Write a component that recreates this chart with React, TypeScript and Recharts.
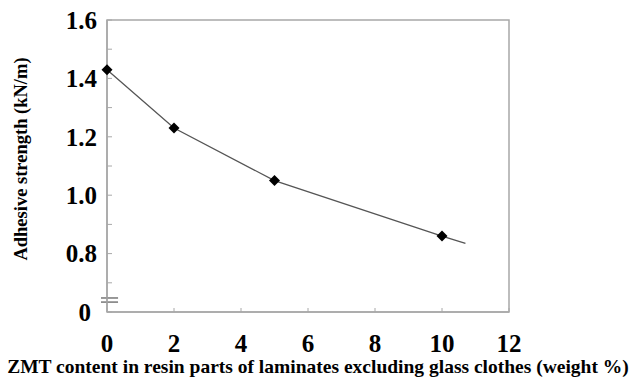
import {
  ComposedChart,
  Line,
  XAxis,
  YAxis,
  ReferenceArea,
  ReferenceLine,
  Label,
} from "recharts";

// ZMT content (weight %) and adhesive strength (kN/m)
const zmtContent = [0, 2, 5, 10, 10.7];
const adhesiveStrength = [1.43, 1.23, 1.05, 0.86, 0.835];
const hasMarker = [true, true, true, true, false];

const xTicks = [0, 2, 4, 6, 8, 10, 12];
const yTicks = [0.6, 0.7, 0.8, 0.9, 1.0, 1.1, 1.2, 1.3, 1.4, 1.5, 1.6];
const yLabels: Record<string, string> = {
  "0.6": "0",
  "0.8": "0.8",
  "1": "1.0",
  "1.2": "1.2",
  "1.4": "1.4",
  "1.6": "1.6",
};

// axis break marks near the bottom of the y axis
const breakYs = [0.648, 0.634];
const breakX = [-0.18, 0.33];

const data = zmtContent.map((x, i) => ({
  x,
  y: adhesiveStrength[i],
  marker: hasMarker[i],
}));

const FONT = "'Liberation Serif', 'Times New Roman', serif";
const AXIS_GRAY = "#a8a8a8";

const Diamond = (props: any) => {
  const { cx, cy, payload } = props;
  if (!payload?.marker || cx == null || cy == null) return <g />;
  const s = 5.5;
  return (
    <polygon
      points={`${cx},${cy - s} ${cx + s},${cy} ${cx},${cy + s} ${cx - s},${cy}`}
      fill="#000"
    />
  );
};

const YTick = (props: any) => {
  const { x, y, payload } = props;
  const key = String(Math.round(payload.value * 10) / 10);
  const text = yLabels[key];
  if (!text) return <g />;
  // the broken-axis zero sits a little further left
  const shift = key === "0.6" ? -6 : 0;
  return (
    <text
      x={x + shift}
      y={y}
      dy="0.35em"
      textAnchor="end"
      fill="#000"
      fontFamily={FONT}
      fontWeight="bold"
      fontSize={25}
    >
      {text}
    </text>
  );
};

const XTick = (props: any) => {
  const { x, payload } = props;
  return (
    <text
      x={x}
      y={352}
      textAnchor="middle"
      fill="#000"
      fontFamily={FONT}
      fontWeight="bold"
      fontSize={25}
    >
      {payload.value}
    </text>
  );
};

export default function App() {
  return (
    <div style={{ position: "absolute", left: 0, top: 0, width: 639, height: 381, background: "#fff" }}>
      <ComposedChart
        width={639}
        height={381}
        data={data}
        margin={{ top: 20, right: 130, left: 0, bottom: 0 }}
      >
        <ReferenceArea
          x1={0}
          x2={12}
          y1={0.6}
          y2={1.6}
          fill="none"
          stroke={AXIS_GRAY}
          strokeWidth={1.5}
          ifOverflow="visible"
        />
        <XAxis
          dataKey="x"
          type="number"
          domain={[0, 12]}
          ticks={xTicks}
          height={69}
          axisLine={{ stroke: AXIS_GRAY, strokeWidth: 1.5 }}
          tickLine={{ stroke: AXIS_GRAY }}
          tickSize={-4}
          tick={<XTick />}
        >
          <Label
            value="ZMT content in resin parts of laminates excluding glass clothes (weight %)"
            position="insideBottom"
            offset={8}
            dx={10}
            style={{ fill: "#000", fontFamily: FONT, fontWeight: "bold", fontSize: 19.5 }}
          />
        </XAxis>
        <YAxis
          type="number"
          domain={[0.6, 1.6]}
          ticks={yTicks}
          width={107}
          interval={0}
          axisLine={{ stroke: AXIS_GRAY, strokeWidth: 1.5 }}
          tickLine={{ stroke: AXIS_GRAY }}
          tickSize={-5}
          tickMargin={15}
          tick={<YTick />}
        >
          <Label
            value="Adhesive strength (kN/m)"
            angle={-90}
            position="center"
            dx={-33.5}
            dy={-7}
            style={{ fill: "#000", fontFamily: FONT, fontWeight: "bold", fontSize: 18.5, textAnchor: "middle" }}
          />
        </YAxis>
        {breakYs.map((by) => (
          <ReferenceLine
            key={by}
            segment={[
              { x: breakX[0], y: by },
              { x: breakX[1], y: by },
            ]}
            stroke="#555"
            strokeWidth={1.2}
            ifOverflow="visible"
          />
        ))}
        <Line
          type="linear"
          dataKey="y"
          stroke="#555"
          strokeWidth={1.3}
          dot={<Diamond />}
          activeDot={false}
          isAnimationActive={false}
        />
      </ComposedChart>
    </div>
  );
}
